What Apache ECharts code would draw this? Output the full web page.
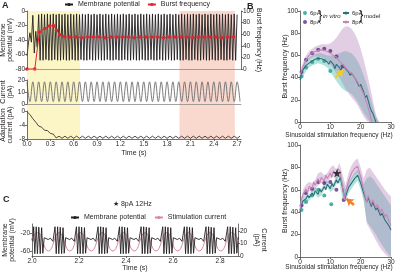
<!DOCTYPE html>
<html>
<head>
<meta charset="utf-8">
<script src="https://cdn.jsdelivr.net/npm/echarts@6/dist/echarts.min.js"></script>
<style>
  html, body { margin: 0; padding: 0; background: #fff; }
  #main { width: 400px; height: 274px; }
</style>
</head>
<body>
<div id="main"></div>
<script>
// ---- panel A : sinusoidal drive, traces sampled at a fixed step ----
var aSpikeStep = 0.01875
var aMembrane = [
  -62, -44, -30, -43, -6, -58, -28, -50, -5, -68,
  -4, -68, -5, -67, -4, -68, -5, -68, -4, -67, -5, -68,
  -4, -68, -5, -67, -4, -68, -5, -68, -4, -67, -5, -68,
  -4, -68, -5, -67, -4, -68, -5, -68, -4, -67, -5, -68,
  -4, -68, -5, -67, -4, -68, -5, -68, -4, -67, -5, -68,
  -4, -68, -5, -67, -4, -68, -5, -68, -4, -67, -5, -68,
  -4, -68, -5, -67, -4, -68, -5, -68, -4, -67, -5, -68,
  -4, -68, -5, -67, -4, -68, -5, -68, -4, -67, -5, -68,
  -4, -68, -5, -67, -4, -68, -5, -68, -4, -67, -5, -68,
  -4, -68, -5, -67, -4, -68, -5, -68, -4, -67, -5, -68,
  -4, -68, -5, -67, -4, -68, -5, -68, -4, -67, -5, -68,
  -4, -68, -5, -67, -4, -68, -5, -68, -4, -67, -5, -68,
  -4, -68, -5
]
var aCurrentStep = 0.0375
var aCurrent = [
  18.5, 2, 18.5, 2, 18.5, 2, 18.5, 2, 18.5, 2, 18.5, 2, 18.5, 2, 18.5, 2,
  18.5, 2, 18.5, 2, 18.5, 2, 18.5, 2, 18.5, 2, 18.5, 2, 18.5, 2, 18.5, 2,
  18.5, 2, 18.5, 2, 18.5, 2, 18.5, 2, 18.5, 2, 18.5, 2, 18.5, 2, 18.5, 2,
  18.5, 2, 18.5, 2, 18.5, 2, 18.5, 2, 18.5, 2, 18.5, 2, 18.5, 2, 18.5, 2,
  18.5, 2, 18.5, 2, 18.5, 2, 18.5, 2, 18.5, 2
]
var aAdaptation = [
  -0.2, -1.0, -2.2, -3.2, -4.3, -4.6, -5.5, -5.6, -6.4, -6.6, -7.7, -7.2,
  -7.8, -7.2, -7.8, -7.2, -7.8, -7.2, -7.8, -7.2, -7.8, -7.2, -7.8, -7.2,
  -7.8, -7.2, -7.8, -7.2, -7.8, -7.2, -7.8, -7.2, -7.8, -7.2, -7.8, -7.2,
  -7.8, -7.2, -7.8, -7.2, -7.8, -7.2, -7.8, -7.2, -7.8, -7.2, -7.8, -7.2,
  -7.8, -7.2, -7.8, -7.2, -7.8, -7.2, -7.8, -7.2, -7.8, -7.2, -7.8, -7.2,
  -7.8, -7.2, -7.8, -7.2, -7.8, -7.2, -7.8, -7.2, -7.8, -7.2, -7.8, -7.2,
  -7.8, -7.2
]
var aBurstTime = [0, 0.1, 0.16, 0.23, 0.29, 0.34, 0.38, 0.42, 0.48, 0.555, 0.63, 0.705,
  0.78, 0.855, 0.93, 1.005, 1.08, 1.155, 1.23, 1.305, 1.38, 1.455, 1.53, 1.605, 1.68,
  1.755, 1.83, 1.905, 1.98, 2.055, 2.13, 2.205, 2.28, 2.355, 2.43, 2.505, 2.58, 2.655]
var aBurstFreq = [0, 0, 64, 70, 74, 75, 67, 59, 56, 55, 55, 54, 55, 55, 55, 54, 55, 55,
  55, 55, 54, 55, 55, 55, 55, 54, 55, 55, 55, 55, 54, 55, 55, 55, 55, 54, 55, 55]
var aYellow = [0, 0.68]
var aPink = [1.96, 2.67]
var aTimeMax = 2.75
var aTimeTicks = [0, 0.3, 0.6, 0.9, 1.2, 1.5, 1.8, 2.1, 2.4, 2.7]

// ---- panel B : burst frequency vs stimulation frequency ----
var topVitro6 = [[0.5, 41], [2, 49], [4, 54], [6, 57], [8, 55], [10, 46]]
var topVitro8 = [[0.5, 45], [2, 56], [4, 62], [6, 65], [8, 66], [10, 64], [12, 59], [14, 50]]
var topModel6 = [[0, 38], [0.5, 44], [1, 47], [2, 51], [3, 53], [4, 55], [5, 56.5], [6, 57.5],
  [7, 57], [8, 56], [9, 54], [9.5, 52], [10, 55], [11, 52], [11.5, 48], [12, 52], [13, 49],
  [13.5, 46], [14, 52], [15, 48], [16, 45], [16.5, 42], [17, 44], [18, 40], [19, 35],
  [19.5, 32], [20, 34], [21, 27], [21.5, 22], [22, 24], [23, 14], [23.5, 10], [24, 8],
  [24.5, 4], [25, 0]]
var topModel8 = [[0, 42], [0.5, 46], [1, 50], [2, 56], [3, 60], [4, 62], [5, 63.5], [6, 64.5],
  [7, 65], [8, 64.5], [9, 63.5], [10, 62], [11, 60], [12, 58.5], [13, 55], [14, 52], [15, 49],
  [16, 46], [17, 44], [18, 40], [19, 36], [20, 31], [21, 25], [22, 17], [23, 8], [23.7, 0]]
var topBandF = [0, 1, 2, 3, 4, 5, 6, 7, 8, 9, 10, 11, 12, 13, 14, 15, 16, 17, 18, 19, 20, 21, 22, 23, 24, 25, 26]
var topBand6Lo = [36, 41, 46, 49, 51, 52, 53, 52, 51, 49, 45, 41, 37, 33, 30, 28, 27, 25, 22, 18, 13, 8, 4, 0, 0, 0, 0]
var topBand6Hi = [43, 49, 55, 58, 60, 61, 62, 62, 61, 60, 60, 60, 61, 62, 63, 64, 63, 62, 59, 55, 49, 42, 34, 24, 14, 5, 0]
var topBand8Lo = [40, 46, 52, 56, 58, 59, 59, 58, 57, 55, 52, 48, 44, 40, 35, 30, 26, 22, 19, 15, 10, 5, 1, 0, 0, 0, 0]
var topBand8Hi = [46, 54, 60, 64, 66, 68, 69, 70, 70, 70, 71, 73, 76, 80, 84, 86, 86, 84, 80, 74, 66, 56, 45, 33, 20, 7, 0]

var bottomVitro6 = [[0.5, 42], [2, 49], [4, 55], [6, 60], [8, 55], [10.3, 47]]
var bottomVitro8 = [[0.5, 46], [2, 57], [4, 61], [6, 67], [8, 66], [10, 67], [12, 60], [14.4, 51]]
var bottomModel6 = [[0, 40], [0.5, 47], [1, 50], [2, 52], [2.5, 55], [3, 53], [4, 57], [4.5, 55],
  [5, 59], [6, 56], [6.5, 61], [7, 58], [8, 63], [8.5, 60], [9, 65], [10, 61], [10.5, 66],
  [11, 63], [12, 69], [12.5, 66], [13.3, 71], [14.8, 52], [16, 62], [17, 66], [18, 70], [19, 73],
  [20, 66], [21, 57], [22, 49], [22.5, 53], [23.5, 45], [24, 49], [25, 42], [25.5, 44],
  [26.5, 37], [27, 39], [28, 33], [28.5, 34], [29.5, 27], [30, 24]]
var bottomModel8 = [[0, 42], [0.5, 52], [1, 56], [2, 61], [2.5, 57], [3, 63], [4, 61], [4.5, 67],
  [5, 64], [6, 70], [6.5, 66], [7, 71], [8, 68], [8.5, 73], [9, 70], [10, 75], [10.5, 71],
  [11, 77], [12, 73], [12.5, 79], [13.3, 76], [14.6, 51], [15, 58], [16, 68], [17, 75], [18, 79],
  [19, 81], [20, 72], [21, 60], [22, 49], [22.5, 55], [23.5, 47], [24, 51], [25, 44],
  [25.5, 47], [26.5, 40], [27, 43], [28, 36], [28.5, 38], [29.5, 31], [30, 28]]
var bottomBandF = [0, 1, 2, 3, 4, 5, 6, 7, 8, 9, 10, 11, 12, 13, 14, 15, 16, 17, 18, 19, 20,
  21, 22, 23, 24, 25, 26, 27, 28, 29, 30]
var bottomBand6Lo = [37, 46, 49, 50, 54, 56, 53, 55, 60, 62, 58, 60, 65, 66, 52, 50, 57, 61, 65, 68, 60, 50, 32, 28, 24, 20, 15, 11, 7, 3, 0]
var bottomBand6Hi = [43, 54, 55, 56, 60, 62, 59, 61, 66, 68, 64, 66, 73, 75, 68, 60, 67, 71, 75, 78, 72, 65, 70, 72, 70, 66, 62, 58, 54, 50, 46]
var bottomBand8Lo = [40, 52, 57, 59, 58, 60, 64, 66, 64, 66, 70, 72, 69, 73, 58, 52, 62, 69, 73, 75, 66, 52, 30, 25, 20, 15, 10, 6, 3, 0, 0]
var bottomBand8Hi = [45, 60, 65, 67, 66, 69, 75, 76, 73, 75, 80, 82, 78, 84, 74, 64, 75, 82, 86, 88, 80, 70, 78, 80, 76, 72, 68, 64, 60, 57, 54]
var starPoint = [[12.2, 75]]
var yellowArrow = [[11.7, 40], [14.3, 47]]
var orangeArrow = [[17.8, 46.5], [15.3, 52]]

// ---- panel C : 8pA 12Hz, zoom on 2.0 - 2.9 s ----
var cBurstOnset = [2.004, 2.095, 2.186, 2.278, 2.369, 2.461, 2.553, 2.645, 2.737, 2.829]
var cBurstOffset = [0, 0.003, 0.008, 0.014, 0.019, 0.025, 0.031, 0.037, 0.042, 0.048, 0.055, 0.065, 0.074, 0.085]
var cBurstShape = [-38, -6, -65, -6, -65, -7, -65, -8, -64, -30, -26, -34, -31, -38]
var cStimTime = [1.978, 2.024, 2.070, 2.115, 2.161, 2.206, 2.252, 2.298, 2.344, 2.389, 2.435,
  2.481, 2.527, 2.573, 2.619, 2.665, 2.711, 2.757, 2.803, 2.849, 2.895]
var cStimValue = [4, 19, 4, 19, 4, 19, 4, 19, 4, 19, 4, 19, 4, 19, 4, 19, 4, 19, 4, 19, 4]
var cTimeTicks = [2.0, 2.2, 2.4, 2.6, 2.8]

var ink = '#231f20'
var font = 'Liberation Sans, Arial, sans-serif'
var teal = '#1f9e8b'
var purple = '#5b2c83'
var modelTeal = '#2d6f7a'
var modelPink = '#c985b8'

function sampled (step, values) {
  return values.map(function (v, i) { return [+(i * step).toFixed(5), v] })
}
function zip (xs, ys) {
  return xs.map(function (x, i) { return [x, ys[i]] })
}
function bursts () {
  var out = []
  cBurstOnset.forEach(function (t0) {
    cBurstOffset.forEach(function (dt, j) { out.push([+(t0 + dt).toFixed(4), cBurstShape[j]]) })
  })
  return out
}
// shaded spread between lo and hi, placed through the axes of the grid
function band (xi, yi, fs, lo, hi, color) {
  return {
    type: 'custom', xAxisIndex: xi, yAxisIndex: yi, data: [[fs[0], lo[0]]], silent: true, z: 1,
    renderItem: function (params, api) {
      var pts = []
      for (var i = 0; i < fs.length; i++) pts.push(api.coord([fs[i], hi[i]]))
      for (var k = fs.length - 1; k >= 0; k--) pts.push(api.coord([fs[k], lo[k]]))
      return { type: 'polygon', shape: { points: pts }, style: { fill: color } }
    }
  }
}

var lineAxis = { show: true, onZero: false, lineStyle: { color: '#4d4d4d', width: 0.8 } }
var tick = { show: true, length: 2, lineStyle: { color: '#4d4d4d', width: 0.8 } }
var label = { fontSize: 6.5, margin: 2, color: ink }
var nameStyle = { fontSize: 7, color: ink, lineHeight: 7 }
var freqName = { fontSize: 6.5, color: ink, padding: [0, 13, 0, 0] }
var greyLine = { show: true, onZero: false, lineStyle: { color: '#8a8a8a', width: 0.8 } }

// every axis: name placed by nameGap only
function ax (o) {
  return Object.assign({ type: 'value', nameMoveOverlap: false, splitLine: { show: false },
    axisLine: lineAxis, axisTick: tick, axisLabel: label, nameTextStyle: nameStyle, nameLocation: 'middle' }, o)
}

var chart = echarts.init(document.getElementById('main'))
var series = [
  { type: 'line', xAxisIndex: 0, yAxisIndex: 0, data: [[0, 0]], symbol: 'none', silent: true,
    lineStyle: { opacity: 0 }, z: -1,
    markArea: { silent: true, data: [
      [{ xAxis: aYellow[0], itemStyle: { color: '#fcf6c6' } }, { xAxis: aYellow[1] }],
      [{ xAxis: aPink[0], itemStyle: { color: '#f9d8cd' } }, { xAxis: aPink[1] }]
    ] } },
  { name: 'Membrane potential', type: 'line', xAxisIndex: 1, yAxisIndex: 1,
    data: sampled(aSpikeStep, aMembrane), symbol: 'none',
    lineStyle: { color: ink, width: 0.9 }, itemStyle: { color: ink } },
  { name: 'Burst frequency', type: 'line', xAxisIndex: 1, yAxisIndex: 2,
    data: zip(aBurstTime, aBurstFreq), symbol: 'circle', symbolSize: 3.5,
    lineStyle: { color: '#e3242b', width: 1 }, itemStyle: { color: '#e3242b' } },
  { type: 'line', xAxisIndex: 2, yAxisIndex: 3, data: sampled(aCurrentStep, aCurrent),
    smooth: 0.4, symbol: 'none', lineStyle: { color: '#6d6e71', width: 0.9 } },
  { type: 'line', xAxisIndex: 3, yAxisIndex: 4, data: sampled(aCurrentStep, aAdaptation),
    symbol: 'none', lineStyle: { color: '#333', width: 0.9 } },
  band(4, 5, topBandF, topBand6Lo, topBand6Hi, 'rgba(70,185,172,0.42)'),
  band(4, 5, topBandF, topBand8Lo, topBand8Hi, 'rgba(175,120,180,0.36)'),
  band(5, 6, bottomBandF, bottomBand6Lo, bottomBand6Hi, 'rgba(70,185,172,0.42)'),
  band(5, 6, bottomBandF, bottomBand8Lo, bottomBand8Hi, 'rgba(175,120,180,0.36)'),
  { name: '6pA model', type: 'line', xAxisIndex: 4, yAxisIndex: 5, data: topModel6, symbol: 'none',
    lineStyle: { color: modelTeal, width: 1.1 }, itemStyle: { color: modelTeal },
    markLine: { silent: true, symbol: ['none', 'arrow'], symbolSize: 7, label: { show: false },
      lineStyle: { color: '#f2cf1c', width: 2.5, type: 'solid' },
      data: [[{ coord: yellowArrow[0] }, { coord: yellowArrow[1] }]] } },
  { name: '8pA model', type: 'line', xAxisIndex: 4, yAxisIndex: 5, data: topModel8, symbol: 'none',
    lineStyle: { color: modelPink, width: 1.1 }, itemStyle: { color: modelPink } },
  { name: '6pA in vitro', type: 'scatter', xAxisIndex: 4, yAxisIndex: 5, data: topVitro6,
    symbolSize: 4, itemStyle: { color: teal } },
  { name: '8pA in vitro', type: 'scatter', xAxisIndex: 4, yAxisIndex: 5, data: topVitro8,
    symbolSize: 4, itemStyle: { color: purple } },
  { name: '6pA model', type: 'line', xAxisIndex: 5, yAxisIndex: 6, data: bottomModel6, symbol: 'none',
    lineStyle: { color: modelTeal, width: 1.1 },
    markLine: { silent: true, symbol: ['none', 'arrow'], symbolSize: 7, label: { show: false },
      lineStyle: { color: '#f0802b', width: 2.5, type: 'solid' },
      data: [[{ coord: orangeArrow[0] }, { coord: orangeArrow[1] }]] } },
  { name: '8pA model', type: 'line', xAxisIndex: 5, yAxisIndex: 6, data: bottomModel8, symbol: 'none',
    lineStyle: { color: modelPink, width: 1.1 } },
  { name: '6pA in vitro', type: 'scatter', xAxisIndex: 5, yAxisIndex: 6, data: bottomVitro6,
    symbolSize: 4, itemStyle: { color: teal } },
  { name: '8pA in vitro', type: 'scatter', xAxisIndex: 5, yAxisIndex: 6, data: bottomVitro8,
    symbolSize: 4, itemStyle: { color: purple } },
  { type: 'scatter', xAxisIndex: 5, yAxisIndex: 6, data: starPoint, symbolSize: 9,
    symbol: 'path://M50,0 L61,35 L98,35 L68,57 L79,91 L50,70 L21,91 L32,57 L2,35 L39,35 Z',
    itemStyle: { color: '#111' }, z: 5 },
  { name: 'Stimulation current', type: 'line', xAxisIndex: 6, yAxisIndex: 8,
    data: zip(cStimTime, cStimValue), smooth: 0.5, symbol: 'none',
    lineStyle: { color: '#d88a9c', width: 1 }, itemStyle: { color: '#d88a9c' } },
  { name: 'Membrane potential', type: 'line', xAxisIndex: 6, yAxisIndex: 7, data: bursts(),
    symbol: 'none', lineStyle: { color: ink, width: 0.9 }, itemStyle: { color: ink } }
]

var legendFmt = function (n) { return n.split(' ')[0] }
var gridBase = { outerBoundsMode: 'none', containLabel: false }
function grid (l, t, w, h) { return Object.assign({ left: l, top: t, width: w, height: h }, gridBase) }
var fmt1 = function (v) { return v.toFixed(1) }

chart.setOption({
  animation: false,
  textStyle: { fontFamily: font, color: ink },
  grid: [
    grid(27, 11, 214, 128),
    grid(27, 11, 214, 58),
    grid(27, 80, 214, 24),
    grid(27, 111, 214, 28),
    grid(300, 11, 91, 111),
    grid(300, 145, 91, 112),
    grid(32, 224, 206, 32)
  ],
  legend: [
    { left: 64, top: 1, padding: 0, itemWidth: 8, itemHeight: 4, itemGap: 7,
      textStyle: { fontSize: 7, color: ink }, data: ['Membrane potential', 'Burst frequency'] },
    { left: 303, top: 10, orient: 'vertical', padding: 0, itemWidth: 4, itemHeight: 4, itemGap: 3,
      textStyle: { fontSize: 6, color: ink, padding: [0, 0, 0, -2] }, formatter: legendFmt, data: ['6pA in vitro', '8pA in vitro'] },
    { left: 342, top: 10, orient: 'vertical', padding: 0, itemWidth: 6, itemHeight: 4, itemGap: 3,
      textStyle: { fontSize: 6, color: ink, padding: [0, 0, 0, -2] }, formatter: legendFmt, data: ['6pA model', '8pA model'] },
    { left: 70, top: 214, padding: 0, itemWidth: 8, itemHeight: 4, itemGap: 8,
      textStyle: { fontSize: 7, color: ink }, data: ['Membrane potential', 'Stimulation current'] }
  ],
  xAxis: [
    { gridIndex: 0, type: 'value', min: 0, max: aTimeMax, show: false },
    ax({ gridIndex: 1, min: 0, max: aTimeMax, axisLine: greyLine, z: 5, axisTick: { show: false }, axisLabel: { show: false } }),
    ax({ gridIndex: 2, min: 0, max: aTimeMax, axisLine: greyLine, z: 5, axisTick: { show: false }, axisLabel: { show: false } }),
    ax({ gridIndex: 3, min: 0, max: aTimeMax, z: 5,
      axisTick: Object.assign({ customValues: aTimeTicks }, tick),
      axisLabel: Object.assign({ customValues: aTimeTicks, formatter: fmt1 }, label),
      name: 'Time (s)', nameGap: 11 }),
    ax({ gridIndex: 4, min: 0, max: 30, interval: 10, name: 'Sinusoidal stimulation frequency (Hz)',
      nameGap: 10, nameTextStyle: freqName }),
    ax({ gridIndex: 5, min: 0, max: 30, interval: 10, name: 'Sinusoidal stimulation frequency (Hz)',
      nameGap: 7, nameTextStyle: freqName }),
    ax({ gridIndex: 6, min: 2.0, max: 2.876,
      axisTick: Object.assign({ customValues: cTimeTicks }, tick),
      axisLabel: Object.assign({ customValues: cTimeTicks, formatter: fmt1 }, label),
      name: 'Time (s)', nameGap: 9 })
  ],
  yAxis: [
    { gridIndex: 0, type: 'value', min: 0, max: 1, show: false },
    ax({ gridIndex: 1, min: -80, max: 0, interval: 20, z: 5,
      name: 'Membrane\npotential (mV)', nameRotate: 90, nameGap: 13 }),
    ax({ gridIndex: 1, position: 'right', min: 0, max: 100, interval: 20, z: 5,
      name: 'Burst frequency (Hz)', nameRotate: -90, nameGap: 14 }),
    ax({ gridIndex: 2, min: 0, max: 20, interval: 10, z: 5,
      name: 'Current\n(pA)', nameRotate: 90, nameGap: 13 }),
    ax({ gridIndex: 3, min: -8, max: 0, interval: 4, z: 5,
      name: 'Adaptation\ncurrent (pA)', nameRotate: 90, nameGap: 13 }),
    ax({ gridIndex: 4, min: 0, max: 100, interval: 20, name: 'Burst frequency (Hz)', nameRotate: 90, nameGap: 11 }),
    ax({ gridIndex: 5, min: 0, max: 100, interval: 20, name: 'Burst frequency (Hz)', nameRotate: 90, nameGap: 11 }),
    ax({ gridIndex: 6, min: -70, max: 0,
      axisTick: Object.assign({ customValues: [-20, -60] }, tick),
      axisLabel: Object.assign({ customValues: [-20, -60] }, label),
      name: 'Membrane\npotential (mV)', nameRotate: 90, nameGap: 16 }),
    ax({ gridIndex: 6, position: 'right', min: 0, max: 26,
      axisTick: Object.assign({ customValues: [0, 10, 20] }, tick),
      axisLabel: Object.assign({ customValues: [0, 10, 20] }, label),
      name: 'Current\n(pA)', nameRotate: -90, nameGap: 15 })
  ],
  graphic: [
    { type: 'text', left: 2, top: 1, style: { text: 'A', font: 'bold 9px ' + font, fill: ink } },
    { type: 'text', left: 247, top: 2, style: { text: 'B', font: 'bold 9px ' + font, fill: ink } },
    { type: 'text', left: 3, top: 195, style: { text: 'C', font: 'bold 9px ' + font, fill: ink } },
    { type: 'text', left: 113, top: 201, style: { text: '★ 8pA 12Hz', font: '7px ' + font, fill: ink } },
    { type: 'text', left: 318, top: 9, style: { text: '}', font: '13px ' + font, fill: ink } },
    { type: 'text', left: 323, top: 13, style: { text: 'in vitro', font: 'italic 6px ' + font, fill: ink } },
    { type: 'text', left: 359, top: 9, style: { text: '}', font: '13px ' + font, fill: ink } },
    { type: 'text', left: 364, top: 13, style: { text: 'model', font: '6px ' + font, fill: ink } }
  ],
  series: series
})
</script>
</body>
</html>
